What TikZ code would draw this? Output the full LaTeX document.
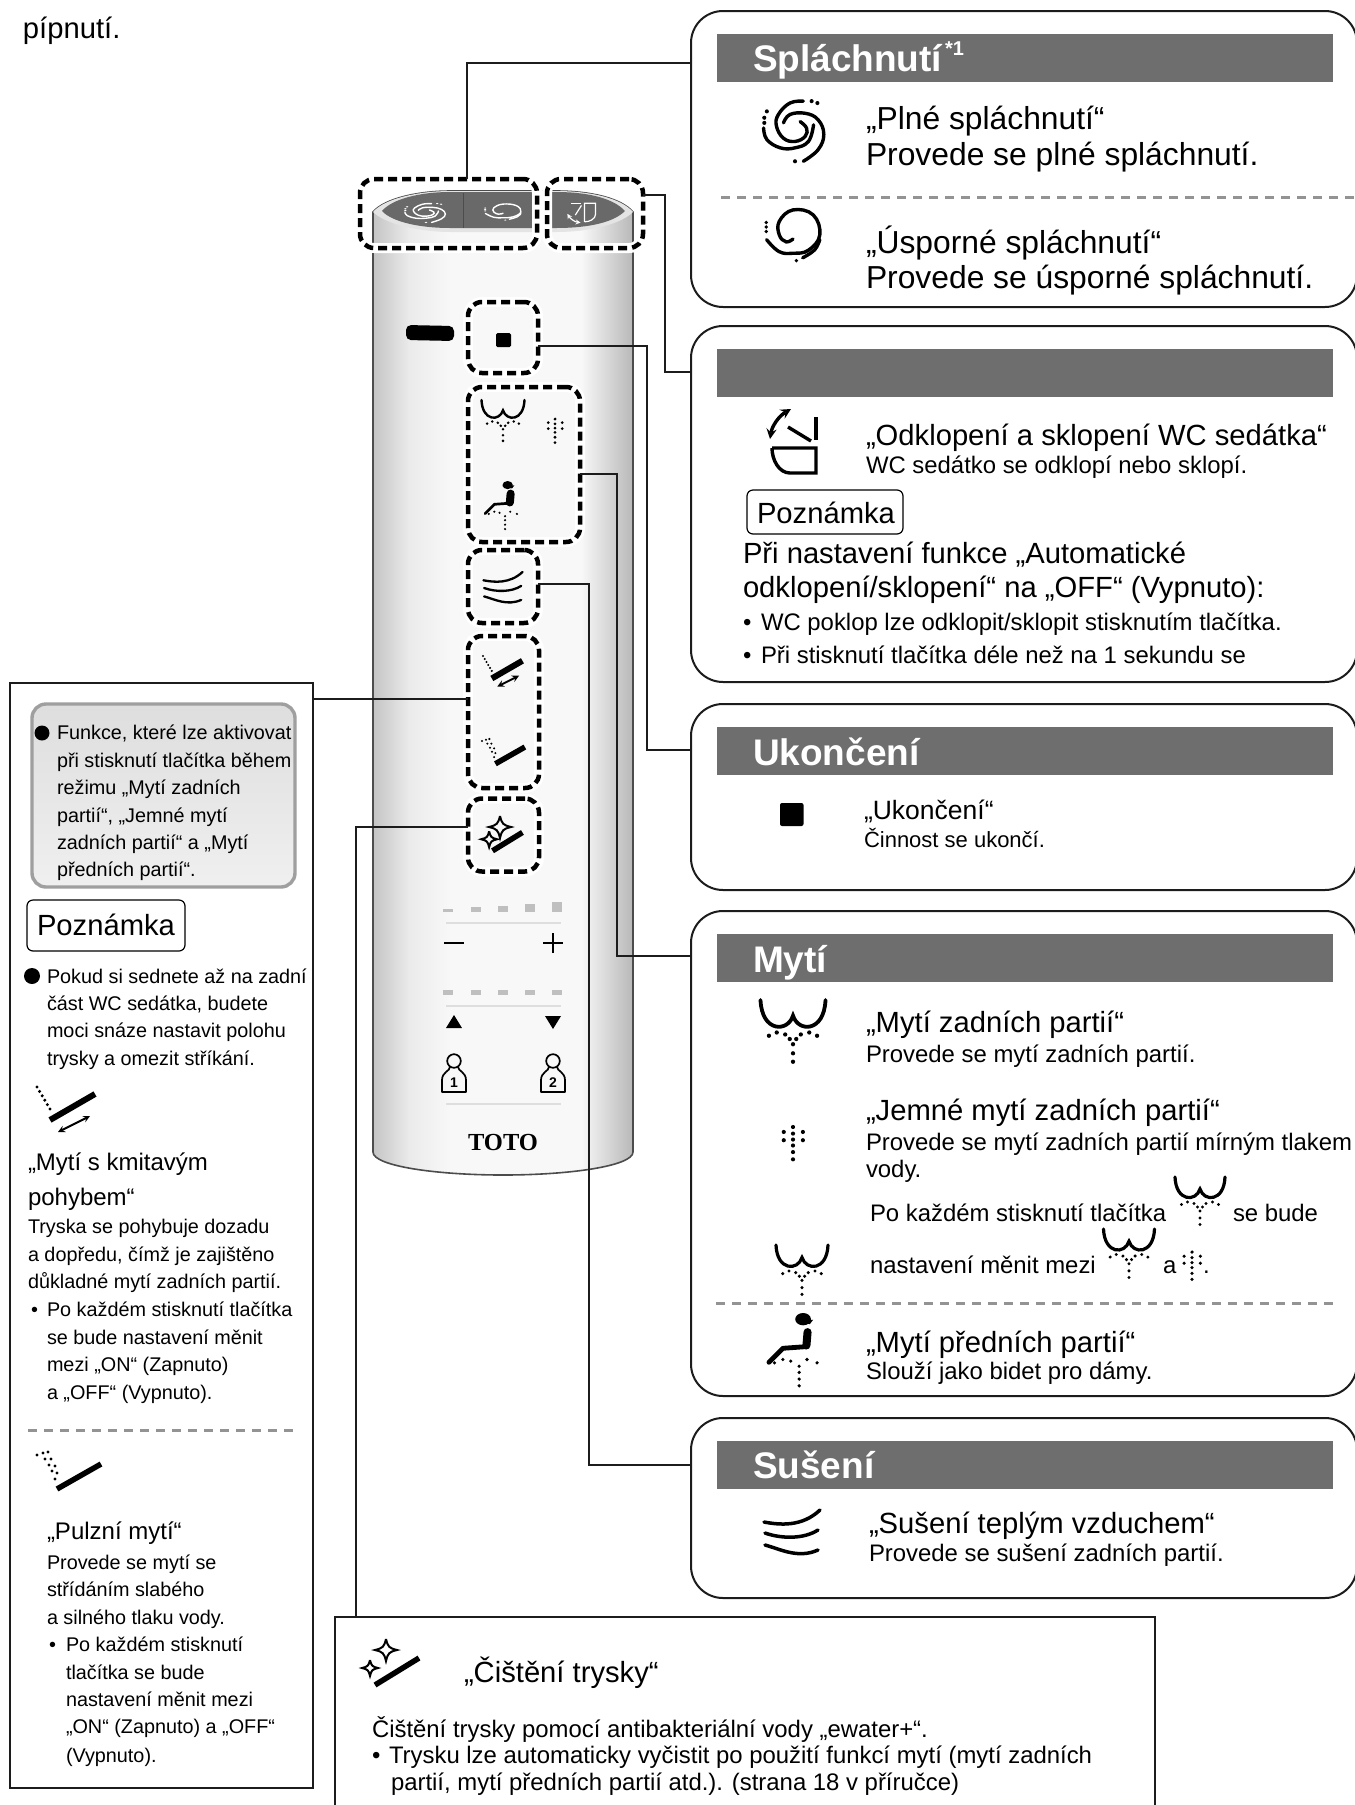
\documentclass[tikz,border=0pt]{standalone}
\usepackage{fontspec}
\setmainfont{Liberation Sans}
\newfontfamily\logofont{Liberation Serif}
\usepackage{tikz}

\definecolor{bargray}{HTML}{6E6E6E}
\definecolor{capgray}{HTML}{696969}
\definecolor{wiregray}{HTML}{1C1C1C}
\definecolor{rimgray}{HTML}{E4E4E4}
\definecolor{shA}{HTML}{C4C4C4}
\definecolor{shB}{HTML}{EBEBEB}
\definecolor{shC}{HTML}{F8F8F8}
\definecolor{shD}{HTML}{B8B8B8}
\pgfdeclarehorizontalshading{panelshade}{100bp}{color(0bp)=(shA); color(25bp)=(shA); color(32bp)=(shB); color(40bp)=(shC); color(65bp)=(shC); color(75bp)=(shD); color(100bp)=(shD)}

\tikzset{
    txt/.style={anchor=base west,inner sep=0pt,outer sep=0pt},
    bigtxt/.style={txt,font=\fontsize{31.8}{36}\selectfont},
    midtxt/.style={txt,font=\fontsize{29.2}{33}\selectfont},
    subtxt/.style={txt,font=\fontsize{23.9}{27}\selectfont},
    leftbig/.style={txt,font=\fontsize{24}{27}\selectfont},
    leftsub/.style={txt,font=\fontsize{19.8}{24}\selectfont},
    titletxt/.style={txt,text=white,font=\fontsize{37}{40}\selectfont\bfseries},
    infobox/.style={rectangle,draw=wiregray,line width=2,rounded corners=32,inner sep=0pt,outer sep=0pt},
    framebox/.style={rectangle,draw=wiregray,line width=2.6,fill=white,inner sep=0pt,outer sep=0pt},
    headbar/.style={rectangle,fill=bargray,minimum width=616,minimum height=48,inner sep=0pt},
    notebtn/.style={rectangle,draw=black,line width=1.2,rounded corners=6,inner sep=0pt,minimum height=44},
    btnbox/.style={rectangle,draw=black,line width=4.5,dash pattern=on 9 off 5,rounded corners=14,inner sep=0pt,outer sep=0pt,
        preaction={draw=white,solid,line width=10}},
    wire/.style={draw=wiregray,line width=2},
    sepline/.style={draw=gray!85,line width=3,dash pattern=on 9 off 7},
    blackdot/.style={circle,fill=black,inner sep=0pt},
    washicon/.pic={
        \draw[line cap=round] (-50,0) .. controls (-48,50) and (-8,50) .. (0,24) .. controls (8,50) and (48,50) .. (50,0);
        \foreach \x/\y in {-37/55,-25/50,-12/53,-5/60,37/55,25/50,12/53,5/60,0/68,0/82,0/95}{\fill (\x,\y) circle[radius=3.3];}
    },
    mildicon/.pic={
        \foreach \x/\y in {0/0,-28/15,30/15,0/20,-28/40,30/40,0/38,0/56,0/76,0/98}{\fill (\x,\y) circle[radius=6.3];}
    },
    bidetpic/.pic={
        \fill (18,11) ellipse[x radius=14,y radius=11];
        \fill (4,14) -- (36,12) -- (30,20) -- cycle;
        \draw[line width=8,line cap=round] (26,34) -- (24,58);
        \draw[line cap=round,line join=round] (24,60) -- (-18,63) -- (-43,88);
        \foreach \x/\y in {-33/89,-18/83,-4/86,11/95,25/83,43/89,11/106,11/118,11/130}{\fill (\x,\y) circle[radius=3.2];}
    },
    flushbig/.pic={
        \draw[line cap=round] plot[smooth,tension=.7] coordinates {(13,-42) (-8,-39) (-26,-21) (-29,-3) (-18,16) (0,21) (16,13) (18,0) (8,-10)};
        \draw[line cap=round] plot[smooth,tension=.7] coordinates {(-49,0) (-44,18) (-23,31) (0,31) (21,21) (29,-5)};
        \draw[line cap=round] plot[smooth,tension=.7] coordinates {(13,52) (36,34) (45,10) (36,-13) (16,-23) (-8,-21) (-18,-8)};
        \foreach \x/\y in {26/-42,35/-39,-44/-26,-48/-16,-48/-8,0/52}{\fill (\x,\y) circle[radius=3.2];}
    },
    flushsmall/.pic={
        \draw[line cap=round] plot[smooth,tension=.7] coordinates {(-190:47) (-230:38) (-270:32) (-315:38) (-360:47) (-405:50) (-450:44) (-495:34) (-540:24) (-585:17) (-630:7)};
        \draw[line cap=round] plot[smooth,tension=.7] coordinates {(17,40) (38,26) (47,8)};
        \foreach \x/\y in {-47/-22,-47/-14,-47/-6,6/45}{\fill (\x,\y) circle[radius=3.3];}
    },
    seaticon/.pic={
        \draw (23,-23) -- (23,0);
        \draw (-5,-13) -- (18,1);
        \draw[<->,>=stealth] (-2,-31) .. controls (-14,-24) and (-21,-14) .. (-23,-1);
        \draw (-21,8) -- (23,8) -- (23,33) -- (-3,33) .. controls (-14,33) and (-21,20) .. (-21,8);
    },
    dryicon/.pic={
        \draw[line cap=round] (-28,-11) .. controls (-12,-8) and (10,-6) .. (28,-23);
        \draw[line cap=round] (-27,0) .. controls (-10,6) and (12,6) .. (26,-3);
        \draw[line cap=round] (-27,12) .. controls (-12,16) and (6,26) .. (26,17);
    },
    oscicon/.pic={
        \foreach \k in {0,...,5}{\fill (2.6*\k,4.4*\k) circle[radius=1.7];}
        \draw[line width=6] (13,33) -- (58,7);
        \draw[line width=2,<->,>=stealth] (21,45) -- (53,29);
    },
    pulseicon/.pic={
        \foreach \x/\y in {0/0,6/-2,11/-3,8/4,14/4,12/10,18/11,15/16,20/18,18/24}{\fill (\x,\y) circle[radius=1.7];}
        \draw[line width=5.5] (20,34) -- (64,9);
    },
    sparkle/.pic={
        \draw (0,-11) .. controls (2,-3) and (3,-2) .. (11,0) .. controls (3,2) and (2,3) .. (0,11) .. controls (-2,3) and (-3,2) .. (-11,0) .. controls (-3,-2) and (-2,-3) .. (0,-11);
    },
    cleanicon/.pic={
        \pic[line width=2] at (0,0) {sparkle};
        \pic[line width=2,scale=.72] at (-16,18) {sparkle};
        \draw[line width=5.5] (-11,35) -- (33,8);
    },
    personicon/.pic={
        \draw (0,7) circle[radius=6.8];
        \draw[line join=round] (-4,13) .. controls (-4,17) and (-12,18) .. (-12,26) -- (-12,38) -- (12,38) -- (12,26) .. controls (12,18) and (4,17) .. (4,13);
        \node[inner sep=0pt,font=\fontsize{14}{14}\selectfont\bfseries] (-num) at (0,29) {#1};
    }
}

\begin{document}
\begin{tikzpicture}[x=1pt,y=-1pt]
        \useasboundingbox (0,0) rectangle (1355,1805);
        \fill[white] (0,0) rectangle (1355,1805);
        \node[midtxt] (beeptxt) at (23,38) {pípnutí.};

        \shade[shading=panelshade] (373,212) .. controls (385,198) and (420,191) .. (450,191) -- (556,191) .. controls (590,191) and (621,198) .. (633,212) -- (633,1152) .. controls (633,1166) and (570,1175) .. (503,1175) .. controls (436,1175) and (373,1166) .. (373,1152) -- cycle;
        \draw[draw=black!70,line width=1.6] (373,212) .. controls (385,198) and (420,191) .. (450,191) -- (556,191) .. controls (590,191) and (621,198) .. (633,212) -- (633,1152) .. controls (633,1166) and (570,1175) .. (503,1175) .. controls (436,1175) and (373,1166) .. (373,1152) -- cycle;
        \fill[rimgray] (373,212) .. controls (385,198) and (420,191) .. (450,191) -- (556,191) .. controls (590,191) and (621,198) .. (633,212) .. controls (621,224) and (590,232) .. (556,232) -- (450,232) .. controls (420,232) and (385,224) .. (373,212) -- cycle;
        \fill[capgray] (382,211) .. controls (392,199) and (420,192) .. (450,192) -- (556,192) .. controls (590,192) and (614,199) .. (625,211) .. controls (614,222) and (590,228) .. (556,228) -- (450,228) .. controls (420,228) and (392,222) .. (382,211) -- cycle;
        \draw[black!70,line width=1] (463,193) -- (463,228);
        \pic[color=white,line width=1.4,xscale=.43,yscale=.2] at (426,212) {flushbig};
        \pic[color=white,line width=1.4,xscale=.38,yscale=.18] at (503,212) {flushsmall};
        \pic[color=white,line width=1.2,xscale=.44,yscale=.42,rotate=90] at (581,213) {seaticon};

        \node[btnbox,minimum width=177,minimum height=69] (flushbtn) at (448.5,213.5) {};
        \node[btnbox,minimum width=96,minimum height=69] (seatbtn) at (595,213.5) {};
        \node[btnbox,minimum width=70,minimum height=71] (stopbtn) at (503,337.5) {};
        \node[btnbox,minimum width=112,minimum height=155] (washbtn) at (524,464.5) {};
        \node[btnbox,minimum width=70,minimum height=73] (drybtn) at (503,586.5) {};
        \node[btnbox,minimum width=71,minimum height=152] (pulsebtn) at (503.5,712) {};
        \node[btnbox,minimum width=71,minimum height=73] (cleanbtn) at (503.5,835) {};

        \fill[black,rounded corners=5] (406,325) -- (454,326) -- (454,341) -- (406,340) -- cycle;
        \fill[black,rounded corners=1.5] (496,333) rectangle (511,347);
        \pic[line width=2.4,scale=.43] at (503,400) {washicon};
        \pic[scale=.24] at (555,419) {mildicon};
        \pic[line width=2.7,scale=.37] at (501,481) {bidetpic};
        \pic[line width=2.3,scale=.7] at (503,588) {dryicon};
        \pic[line width=1.5,scale=.68] at (483,656) {oscicon};
        \pic[line width=1.5,scale=.67] at (482,741) {pulseicon};
        \pic[line width=1.4,scale=.68] at (500,827) {cleanicon};

        \foreach \x/\h in {448/3,476/5,503/6,530/8,557/10}{\fill[black!25] (\x-5,912-\h) rectangle (\x+5,912);}
        \foreach \x in {448,476,503,530,557}{\fill[black!25] (\x-5,989.5) rectangle (\x+5,994.5);}
        \foreach \y in {923,1006,1104}{\draw[black!13,line width=1.4] (446,\y) -- (561,\y);}
        \draw[line width=2.6] (444,943) -- (464,943);
        \draw[line width=2.6] (543,943) -- (563,943);
        \draw[line width=2.6] (553,933) -- (553,953);
        \fill (454,1015) -- (446,1028) -- (462,1028) -- cycle;
        \fill (553,1029) -- (545,1016) -- (561,1016) -- cycle;
        \pic[line width=1.7] at (454,1054) {personicon={1}};
        \pic[line width=1.7] at (553,1054) {personicon={2}};
        \node[inner sep=0pt,font=\fontsize{24.5}{25}\logofont\bfseries] (logotxt) at (503,1142) {TOTO};

        \node[infobox,minimum width=666,minimum height=296] (flushbox) at (1024,159) {};
        \node[infobox,minimum width=666,minimum height=356] (seatbox) at (1024,504) {};
        \node[infobox,minimum width=666,minimum height=186] (stopbox) at (1024,797) {};
        \node[infobox,minimum width=666,minimum height=485] (washbox) at (1024,1153.5) {};
        \node[infobox,minimum width=666,minimum height=180] (drybox) at (1024,1508) {};
        \node[framebox,minimum width=303,minimum height=1105] (notebox) at (161.5,1235.5) {};
        \node[framebox,minimum width=820,minimum height=216] (cleanbox) at (745,1725) {};

        \coordinate (flushport) at (691,63);
        \coordinate (seatturn) at (665,372);
        \coordinate (seatport) at (691,372);
        \coordinate (stopturn) at (647,750);
        \coordinate (stopport) at (691,750);
        \coordinate (washturn) at (617,956);
        \coordinate (washport) at (691,956);
        \coordinate (dryturn) at (589,1465);
        \coordinate (dryport) at (691,1465);
        \coordinate (noteport) at (313,699);
        \coordinate (cleanturn) at (356,827);
        \draw[wire] ([xshift=18.5pt]flushbtn.north) |- (flushport);
        \draw[wire] ([yshift=18.5pt]seatbtn.east) -| (seatturn) -- (seatport);
        \draw[wire] ([yshift=-8.5pt]stopbtn.east) -| (stopturn) -- (stopport);
        \draw[wire] ([yshift=-9.5pt]washbtn.east) -| (washturn) -- (washport);
        \draw[wire] ([yshift=2.5pt]drybtn.east) -| (dryturn) -- (dryport);
        \draw[wire] ([yshift=13pt]pulsebtn.west) -- (noteport);
        \draw[wire] ([yshift=8pt]cleanbtn.west) -- (cleanturn) -- (cleanturn |- cleanbox.north);

        \node[headbar] (flushbar) at (1025,58) {};
        \node[headbar] (seatbar) at (1025,373) {};
        \node[headbar] (stopbar) at (1025,751) {};
        \node[headbar] (washbar) at (1025,958) {};
        \node[headbar] (drybar) at (1025,1464.5) {};
        \node[titletxt] (flushtitle) at (753,71) {Spláchnutí};
        \node[txt,text=white,font=\fontsize{20}{20}\selectfont\bfseries] (flushmark) at (945,55) {*1};
        \node[titletxt] (stoptitle) at (753,765) {Ukončení};
        \node[titletxt] (washtitle) at (753,972) {Mytí};
        \node[titletxt] (drytitle) at (753,1478) {Sušení};

        \pic[line width=3.4,scale=.64] at (795,128) {flushbig};
        \node[bigtxt] (fulltxt) at (866,129) {„Plné spláchnutí“};
        \node[bigtxt] (fullsub) at (866,165) {Provede se plné spláchnutí.};
        \draw[sepline] (721,197) -- (1355,197);
        \pic[line width=3.4,scale=.57] at (793,235) {flushsmall};
        \node[bigtxt] (ecotxt) at (866,253) {„Úsporné spláchnutí“};
        \node[bigtxt] (ecosub) at (866,288) {Provede se úsporné spláchnutí.};

        \pic[line width=3.4] at (793,440) {seaticon};
        \node[midtxt] (seattxt) at (866,445) {„Odklopení a sklopení WC sedátka“};
        \node[subtxt] (seatsub) at (866,473) {WC sedátko se odklopí nebo sklopí.};
        \node[notebtn,minimum width=156] (seatnote) at (825,512) {};
        \node[midtxt] (seatnotetxt) at (757,523) {Poznámka};
        \node[midtxt] (autotxt) at (743,563) {Při nastavení funkce „Automatické};
        \node[midtxt] (offtxt) at (743,597) {odklopení/sklopení“ na „OFF“ (Vypnuto):};
        \node[subtxt] (bulleta) at (743,630) {•};
        \node[subtxt] (lidtxt) at (761,630) {WC poklop lze odklopit/sklopit stisknutím tlačítka.};
        \node[subtxt] (bulletb) at (743,663) {•};
        \node[subtxt] (holdtxt) at (761,663) {Při stisknutí tlačítka déle než na 1 sekundu se};

        \fill[black,rounded corners=2] (780,803) rectangle (803.5,826);
        \node[txt,font=\fontsize{26.5}{30}\selectfont] (stoptxt) at (864,819) {„Ukončení“};
        \node[txt,font=\fontsize{22}{25}\selectfont] (stopsub) at (864,847) {Činnost se ukončí.};

        \pic[line width=3.8,scale=.65] at (793,1000) {washicon};
        \node[midtxt] (reartxt) at (866,1032) {„Mytí zadních partií“};
        \node[subtxt] (rearsub) at (866,1062) {Provede se mytí zadních partií.};
        \pic[scale=.33] at (793,1127) {mildicon};
        \node[midtxt] (softtxt) at (866,1120) {„Jemné mytí zadních partií“};
        \node[subtxt] (softsub) at (866,1150) {Provede se mytí zadních partií mírným tlakem};
        \node[subtxt] (softsubb) at (866,1177) {vody.};
        \node[subtxt] (eachtxt) at (870,1221) {Po každém stisknutí tlačítka};
        \pic[line width=3.2,scale=.5] at (1200,1177) {washicon};
        \node[subtxt] (eachtxtb) at (1233,1221) {se bude};
        \pic[line width=3.2,scale=.52] at (802,1245) {washicon};
        \node[subtxt] (changetxt) at (870,1273) {nastavení měnit mezi};
        \pic[line width=3.2,scale=.51] at (1129,1229) {washicon};
        \node[subtxt] (changetxtb) at (1163,1273) {a};
        \pic[scale=.28] at (1192,1252) {mildicon};
        \node[subtxt] (changetxtc) at (1203,1273) {.};
        \draw[sepline] (716,1303) -- (1337,1303);
        \pic[line width=4.8,scale=.56] at (793,1313) {bidetpic};
        \node[midtxt] (fronttxt) at (866,1352) {„Mytí předních partií“};
        \node[subtxt] (frontsub) at (866,1379) {Slouží jako bidet pro dámy.};

        \pic[line width=3.5] at (792,1533) {dryicon};
        \node[midtxt] (drytxt) at (869,1533) {„Sušení teplým vzduchem“};
        \node[subtxt] (drysub) at (869,1561) {Provede se sušení zadních partií.};

        \node[rectangle,draw=gray!75,line width=3.4,rounded corners=14,top color=black!13,bottom color=black!6,minimum width=263,minimum height=183,inner sep=0pt] (funcbox) at (163.5,795.5) {};
        \node[blackdot,minimum size=15] (funcdot) at (42,733) {};
        \foreach \k/\y/\t in {a/739/{Funkce, které lze aktivovat},b/767/{při stisknutí tlačítka během},c/794/{režimu „Mytí zadních},d/822/{partií“, „Jemné mytí},e/849/{zadních partií“ a „Mytí},f/876/{předních partií“.}}{
            \node[leftsub] (func\k) at (57,\y) {\t};
        }
        \node[notebtn,minimum width=158,minimum height=51] (leftnote) at (106,925.5) {};
        \node[midtxt] (leftnotetxt) at (37,935) {Poznámka};
        \node[blackdot,minimum size=16] (seatdot) at (32,976) {};
        \foreach \k/\y/\t in {a/983/{Pokud si sednete až na zadní},b/1010/{část WC sedátka, budete},c/1037/{moci snáze nastavit polohu},d/1065/{trysky a omezit stříkání.}}{
            \node[leftsub] (back\k) at (47,\y) {\t};
        }
        \pic[line width=1.5] at (37,1087) {oscicon};
        \node[leftbig] (osctxt) at (28,1170) {„Mytí s kmitavým};
        \node[leftbig] (osctxtb) at (28,1205) {pohybem“};
        \foreach \k/\y/\t in {a/1233/{Tryska se pohybuje dozadu},b/1261/{a dopředu, čímž je zajištěno},c/1288/{důkladné mytí zadních partií.}}{
            \node[leftsub] (osc\k) at (28,\y) {\t};
        }
        \node[leftsub] (oscdot) at (31,1316) {•};
        \foreach \k/\y/\t in {d/1316/{Po každém stisknutí tlačítka},e/1344/{se bude nastavení měnit},f/1371/{mezi „ON“ (Zapnuto)},g/1399/{a „OFF“ (Vypnuto).}}{
            \node[leftsub] (osc\k) at (47,\y) {\t};
        }
        \draw[sepline] (28,1430) -- (297,1430);
        \pic[line width=1.5] at (37,1455) {pulseicon};
        \node[leftbig] (pulsetxt) at (47,1539) {„Pulzní mytí“};
        \foreach \k/\y/\t in {a/1569/{Provede se mytí se},b/1596/{střídáním slabého},c/1624/{a silného tlaku vody.}}{
            \node[leftsub] (pulse\k) at (47,\y) {\t};
        }
        \node[leftsub] (pulsedot) at (49,1651) {•};
        \foreach \k/\y/\t in {d/1651/{Po každém stisknutí},e/1679/{tlačítka se bude},f/1706/{nastavení měnit mezi},g/1733.5/{„ON“ (Zapnuto) a „OFF“},h/1762/{(Vypnuto).}}{
            \node[leftsub] (pulse\k) at (66,\y) {\t};
        }

        \pic[line width=2] at (386,1650) {cleanicon};
        \node[midtxt] (cleantxt) at (464,1682) {„Čištění trysky“};
        \node[subtxt] (cleansub) at (372,1737) {Čištění trysky pomocí antibakteriální vody „ewater+“.};
        \node[subtxt] (cleandot) at (372,1763) {•};
        \node[subtxt] (cleanauto) at (389,1763) {Trysku lze automaticky vyčistit po použití funkcí mytí (mytí zadních};
        \node[subtxt] (cleanautob) at (391,1790) {partií, mytí předních partií atd.). (strana 18 v příručce)};
\end{tikzpicture}
\end{document}
